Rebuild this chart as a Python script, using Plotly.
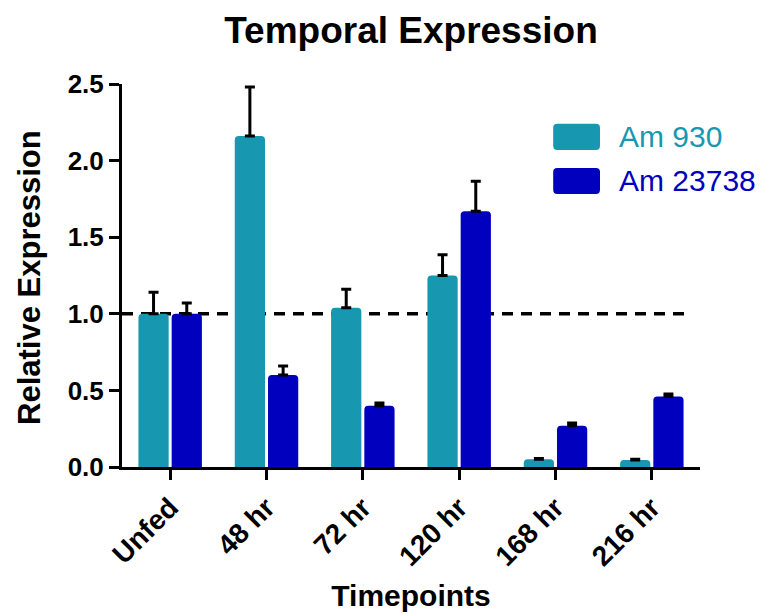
import plotly.graph_objects as go

categories = ["Unfed", "48 hr", "72 hr", "120 hr", "168 hr", "216 hr"]
am930 = [1.0, 2.16, 1.04, 1.25, 0.05, 0.045]
am930_err = [0.14, 0.32, 0.12, 0.135, 0.005, 0.005]
am23738 = [1.0, 0.60, 0.40, 1.67, 0.27, 0.46]
am23738_err = [0.07, 0.06, 0.017, 0.195, 0.017, 0.017]
series_names = ["Am 930", "Am 23738"]
y_ticks = [0.0, 0.5, 1.0, 1.5, 2.0, 2.5]
reference_level = 1.0

CYAN = "#1898B0"
BLUE = "#0000BE"
FONT = "Liberation Sans, Arial, sans-serif"

fig = go.Figure()
for name, vals, errs, col in [(series_names[0], am930, am930_err, CYAN),
                              (series_names[1], am23738, am23738_err, BLUE)]:
    fig.add_trace(go.Bar(
        x=categories, y=vals, name=name, marker=dict(color=col, line=dict(width=0)),
        error_y=dict(type="data", array=errs, arrayminus=[0] * len(errs), symmetric=False,
                     color="black", thickness=3, width=5),
        showlegend=False,
    ))

# reference dashed line
fig.add_shape(type="line", xref="paper", yref="y", x0=0, x1=0.983,
              y0=reference_level, y1=reference_level,
              line=dict(color="black", width=3.5, dash="11px,8px"), layer="below")

# custom legend
def rrect(x0, x1, y0, y1, rx=0.007, ry=0.011):
    return (f"M{x0+rx},{y0} L{x1-rx},{y0} Q{x1},{y0} {x1},{y0+ry} L{x1},{y1-ry} "
            f"Q{x1},{y1} {x1-rx},{y1} L{x0+rx},{y1} Q{x0},{y1} {x0},{y1-ry} "
            f"L{x0},{y0+ry} Q{x0},{y0} {x0+rx},{y0} Z")

leg_y = [0.862, 0.747]
for yc, name, col in zip(leg_y, series_names, [CYAN, BLUE]):
    fig.add_shape(type="path", xref="paper", yref="paper",
                  path=rrect(0.746, 0.827, yc - 0.034, yc + 0.034),
                  fillcolor=col, line=dict(width=0))
    fig.add_annotation(xref="paper", yref="paper", x=0.857, y=yc, text=name,
                       showarrow=False, xanchor="left", yanchor="middle",
                       font=dict(family=FONT, size=30, color=col))

# y-axis title
fig.add_annotation(xref="paper", yref="paper", x=-0.16, y=0.495,
                   text="Relative Expression", textangle=-90, showarrow=False,
                   xanchor="center", yanchor="middle",
                   font=dict(family=FONT, size=31, color="black", weight=700))

fig.update_layout(
    width=757, height=607,
    margin=dict(l=114, r=65, t=76, b=148, autoexpand=False),
    paper_bgcolor="white", plot_bgcolor="white",
    barmode="group", bargap=0.31, bargroupgap=0.09,
    barcornerradius=4,
    title=dict(text="Temporal Expression", x=0.5, xref="paper", y=0.964, yref="container",
               xanchor="center", yanchor="middle",
               font=dict(family=FONT, size=37, color="black", weight=700)),
    xaxis=dict(range=[-0.5, 5.5], showline=True, linecolor="black", linewidth=3,
               ticks="outside", ticklen=10, tickwidth=3, tickcolor="black",
               tickangle=-45, showgrid=False, zeroline=False, automargin=False,
               tickfont=dict(family=FONT, size=28, color="black", weight=700),
               title=dict(text="Timepoints", standoff=14,
                          font=dict(family=FONT, size=30, color="black", weight=700))),
    yaxis=dict(range=[0, 2.5], tickvals=y_ticks, tickformat=".1f",
               showline=True, linecolor="black", linewidth=3, automargin=False,
               ticks="outside", ticklen=10, tickwidth=3, tickcolor="black",
               showgrid=False, zeroline=False,
               tickfont=dict(family=FONT, size=26, color="black", weight=700)),
)

fig.write_html("out.html")
